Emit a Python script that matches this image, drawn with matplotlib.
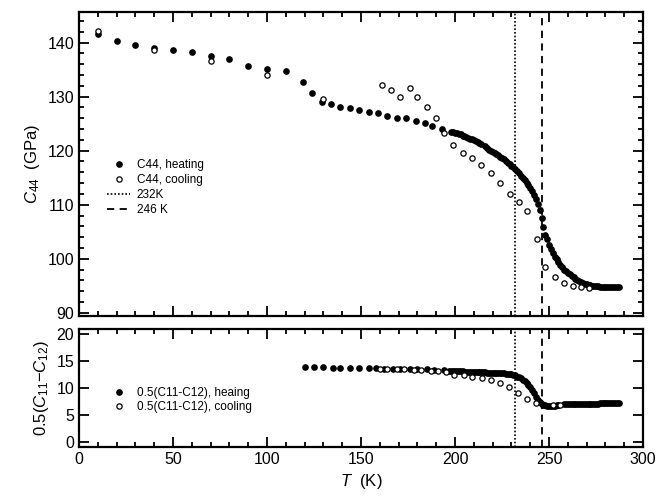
import matplotlib
matplotlib.use("Agg")
import matplotlib.pyplot as plt
from matplotlib.ticker import MultipleLocator

plt.rcParams["font.family"] = ["Liberation Sans", "DejaVu Sans"]
plt.rcParams["mathtext.fontset"] = "custom"
plt.rcParams["mathtext.rm"] = "Liberation Sans"
plt.rcParams["mathtext.it"] = "Liberation Sans:italic"

# -------------------------
# C44 data
# -------------------------
T_c44_heat = [10, 20, 30, 40, 50, 60, 70, 80, 90, 100, 110, 119, 124, 129,
              134, 139, 144, 149, 154, 159, 164, 169, 174, 179, 184, 188, 193,
              198, 199, 200, 201, 202, 203, 204, 205, 206, 207, 208, 209, 210,
              211, 212, 213, 214, 216, 217, 218, 219, 220, 221, 222, 223, 224,
              225, 226, 227, 228, 229, 230, 231, 232, 233, 234, 235, 236, 237,
              238, 239, 240, 241, 242, 243, 244, 245, 246, 247, 248, 249, 250,
              251, 252, 253, 254, 255, 256, 257, 258, 259, 260, 261, 262, 263,
              264, 265, 266, 267, 268, 269, 270, 271, 272, 273, 274, 275, 276,
              277, 278, 279, 280, 281, 282, 283, 284, 285, 286, 287]
c44_heat = [141.7, 140.4, 139.6, 139.0, 138.6, 138.3, 137.6, 136.9, 135.7,
            135.1, 134.7, 132.8, 130.7, 129.1, 128.6, 128.1, 127.9, 127.5,
            127.2, 126.9, 126.4, 126.1, 126.0, 125.5, 125.1, 124.5, 124.1,
            123.5, 123.4, 123.3, 123.2, 123.1, 123.0, 122.8, 122.7, 122.5,
            122.4, 122.2, 122.1, 121.9, 121.8, 121.6, 121.5, 121.3, 120.8,
            120.5, 120.2, 120.0, 119.8, 119.6, 119.4, 119.2, 118.9, 118.6,
            118.4, 118.1, 117.8, 117.5, 117.2, 116.9, 116.6, 116.2, 115.8,
            115.3, 114.9, 114.5, 114.1, 113.6, 113.1, 112.5, 111.8, 111.0,
            110.1, 109.0, 107.6, 105.8, 104.4, 103.6, 102.6, 101.8, 101.1,
            100.4, 99.9, 99.3, 98.8, 98.4, 98.0, 97.7, 97.4, 97.1, 96.8, 96.6,
            96.3, 96.1, 95.9, 95.7, 95.5, 95.4, 95.3, 95.2, 95.1, 95.0, 95.0,
            94.9, 94.9, 94.8, 94.8, 94.8, 94.8, 94.8, 94.8, 94.8, 94.8, 94.8,
            94.8, 94.8]

T_c44_cool = [10, 40, 70, 100, 130, 161, 166, 171, 176, 180, 185, 190, 194,
              199, 204, 209, 214, 219, 224, 229, 234, 238.5, 243.5, 248, 253,
              258, 262.5, 267, 271]
c44_cool = [142.2, 138.6, 136.7, 134.0, 129.6, 132.2, 131.3, 130.0, 131.7,
            129.9, 128.1, 126.0, 123.3, 121.0, 119.6, 118.6, 117.3, 115.8,
            114.0, 112.0, 110.5, 108.9, 103.6, 98.5, 96.6, 95.5, 94.9, 94.8,
            94.6]

# -------------------------
# 0.5(C11-C12) data
# -------------------------
T_cp_heat = [120, 125, 130, 135, 139, 144, 149, 154, 158, 162, 167, 171, 176,
             180, 185, 189, 194, 197, 198, 199, 200, 201, 202, 203, 204, 205,
             206, 207, 208, 209, 210, 211, 212, 213, 214, 215, 216, 217, 218,
             219, 220, 221, 222, 223, 224, 225, 226, 227, 228, 229, 230, 231,
             232, 233, 234, 235, 236, 237, 238, 239, 240, 241, 242, 243, 244,
             245, 246, 247, 248, 249, 250, 251, 252, 253, 254, 255, 258, 259,
             260, 261, 262, 263, 264, 265, 266, 267, 268, 269, 270, 271, 272,
             273, 274, 275, 276, 277, 278, 279, 280, 281, 282, 283, 284, 285,
             286, 287]
cp_heat = [13.8, 13.8, 13.8, 13.7, 13.7, 13.7, 13.6, 13.6, 13.6, 13.5, 13.5,
           13.5, 13.4, 13.4, 13.4, 13.3, 13.3, 13.2, 13.2, 13.2, 13.1, 13.1,
           13.1, 13.1, 13.1, 13.0, 13.0, 13.0, 13.0, 13.0, 13.0, 12.9, 12.9,
           12.9, 12.9, 12.9, 12.9, 12.8, 12.8, 12.8, 12.8, 12.8, 12.8, 12.7,
           12.7, 12.7, 12.7, 12.6, 12.6, 12.5, 12.5, 12.4, 12.3, 12.1, 12.0,
           11.8, 11.5, 11.2, 10.9, 10.5, 10.1, 9.6, 9.0, 8.4, 7.8, 7.4, 7.1,
           6.9, 6.8, 6.7, 6.7, 6.6, 6.7, 6.7, 6.8, 6.8, 7.0, 7.0, 7.0, 7.0,
           7.0, 7.0, 7.0, 7.1, 7.1, 7.1, 7.1, 7.1, 7.1, 7.1, 7.1, 7.1, 7.1,
           7.1, 7.1, 7.2, 7.2, 7.2, 7.2, 7.2, 7.2, 7.2, 7.2, 7.2, 7.2, 7.2]

T_cp_cool = [160, 164, 169, 173, 178, 182, 187, 191, 195, 199.4, 204.7, 209.2,
             214.5, 219, 224, 228.7, 233.5, 238.5, 243, 252, 256]
cp_cool = [13.5, 13.5, 13.4, 13.4, 13.3, 13.3, 13.2, 13.1, 13.0, 12.4, 12.4,
           12.1, 11.8, 11.4, 10.9, 10.2, 9.0, 7.9, 7.2, 6.8, 6.8]

T_lines = [232, 246]

# -------------------------
# Figure
# -------------------------
fig = plt.figure(figsize=(6.63, 4.96), dpi=100)
ax1 = fig.add_axes([0.119, 0.363, 0.851, 0.613])
ax2 = fig.add_axes([0.119, 0.099, 0.851, 0.238])

heat_style = dict(ls="none", marker="o", ms=3.8, mfc="black", mec="black")
cool_style = dict(ls="none", marker="o", ms=3.8, mfc="white", mec="black",
                  mew=0.9)

ax1.plot(T_c44_heat, c44_heat, label="C44, heating", **heat_style)
ax1.plot(T_c44_cool, c44_cool, label="C44, cooling", **cool_style)
ax2.plot(T_cp_heat, cp_heat, label="0.5(C11-C12), heaing", **heat_style)
ax2.plot(T_cp_cool, cp_cool, label="0.5(C11-C12), cooling", **cool_style)

for ax in (ax1, ax2):
    ax.axvline(T_lines[0], color="black", ls=(0, (1, 1.2)), lw=1.2,
               label="232K")
    ax.axvline(T_lines[1], color="black", ls=(0, (4, 3)), lw=1.3,
               label="246 K")
    ax.set_xlim(0, 300)
    ax.xaxis.set_major_locator(MultipleLocator(50))
    ax.xaxis.set_minor_locator(MultipleLocator(10))
    ax.tick_params(which="both", direction="in", top=True, right=True,
                   labelsize=11.5, width=1.3)
    ax.tick_params(which="major", length=7)
    ax.tick_params(which="minor", length=3.5)
    for sp in ax.spines.values():
        sp.set_linewidth(1.6)

ax1.set_ylim(89.4, 145.7)
ax1.yaxis.set_major_locator(MultipleLocator(10))
ax1.yaxis.set_minor_locator(MultipleLocator(2))
ax1.tick_params(labelbottom=False)
ax1.set_ylabel(r"$C_{44}$  (GPa)", fontsize=12)

ax2.set_ylim(-0.9, 20.9)
ax2.yaxis.set_major_locator(MultipleLocator(5))
ax2.set_ylabel(r"0.5($C_{11}$$-$$C_{12}$)", fontsize=12)
ax2.set_xlabel(r"$T$  (K)", fontsize=12)

fig.align_ylabels([ax1, ax2])

h, l = ax1.get_legend_handles_labels()
ax1.legend(h, l, loc="upper left", bbox_to_anchor=(0.04, 0.535),
           frameon=False, fontsize=8.5, handlelength=1.9, handletextpad=0.6,
           labelspacing=0.25, borderpad=0)

h, l = ax2.get_legend_handles_labels()
ax2.legend(h[:2], l[:2], loc="upper left", bbox_to_anchor=(0.04, 0.56),
           frameon=False, fontsize=8.5, handlelength=1.9, handletextpad=0.6,
           labelspacing=0.2, borderpad=0)

fig.savefig("out.png", dpi=100)
